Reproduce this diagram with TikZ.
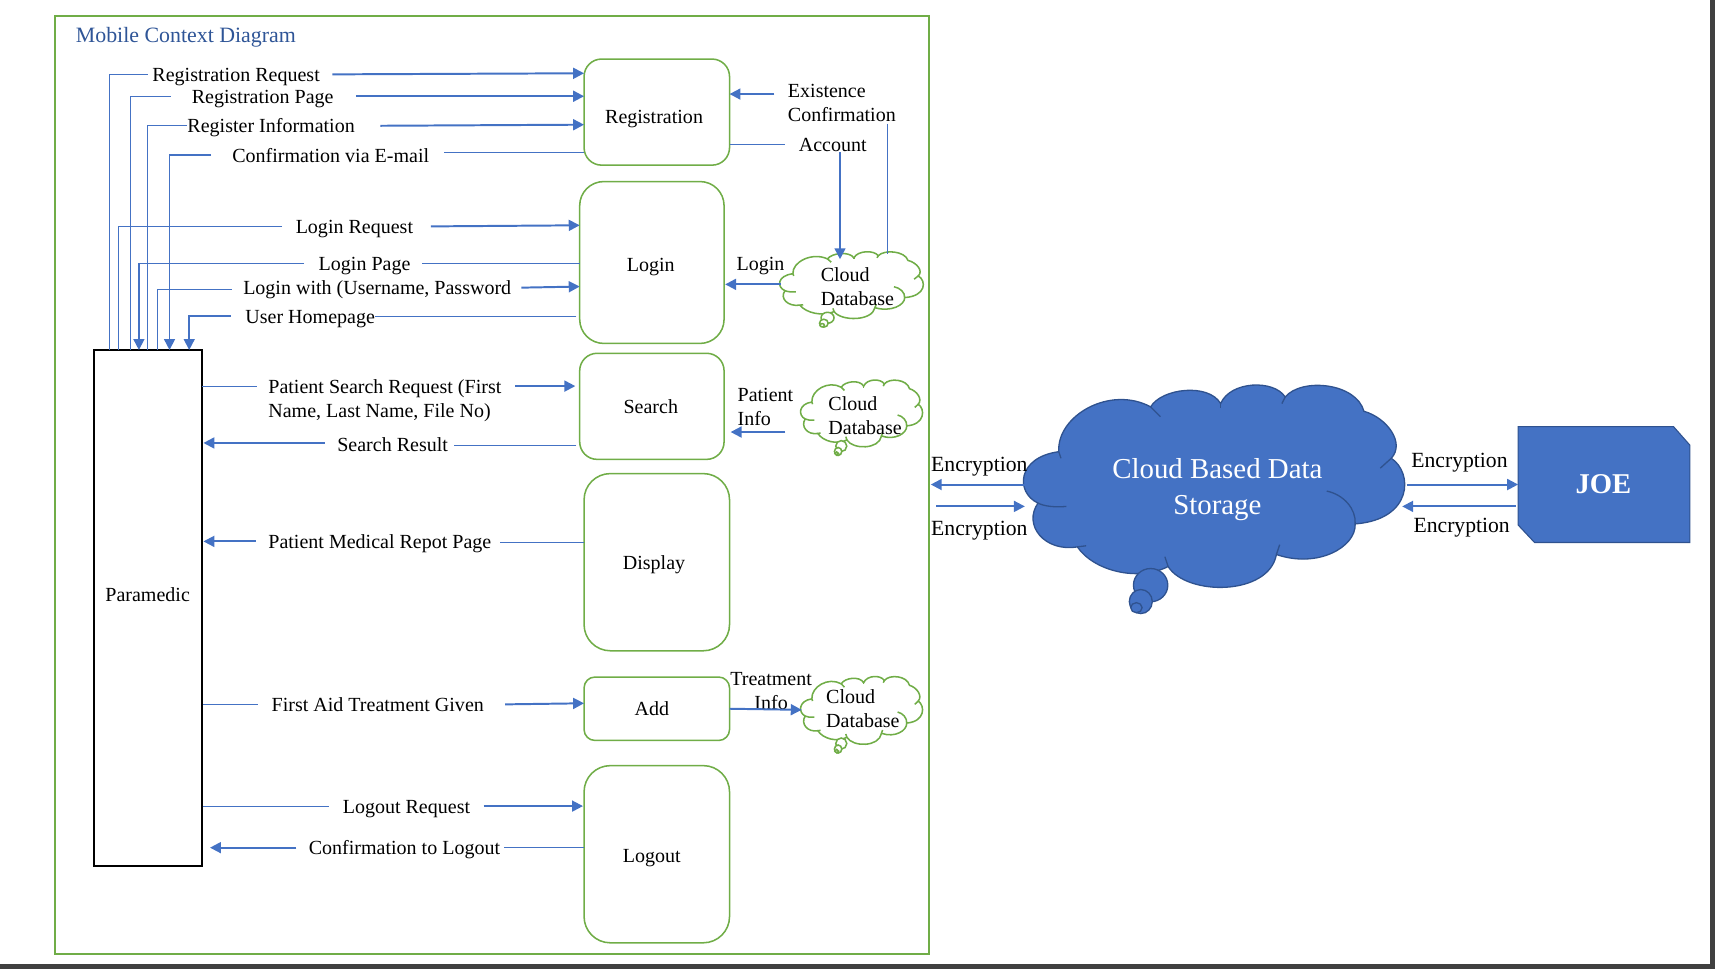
\documentclass[tikz,border=0pt]{standalone}
\usepackage{fontspec}
\setmainfont{Liberation Serif}
\usetikzlibrary{arrows.meta}
\definecolor{dfdgreen}{HTML}{70AD47}
\definecolor{dfdblue}{HTML}{4472C4}
\definecolor{dfdedge}{HTML}{2F528F}
\definecolor{dfdtitle}{HTML}{2F5597}
\definecolor{pagebar}{HTML}{404040}
\tikzset{
	process/.style={draw=dfdgreen, line width=0.7pt, fill=white},
	lbl/.style={inner sep=0pt, font=\fontsize{9.15}{11}\selectfont, text height=8.3pt, text depth=1.8pt},
	lbls/.style={inner sep=0pt, font=\fontsize{9.15}{11}\selectfont, align=left},
	enc/.style={inner sep=0pt, font=\fontsize{9.9}{12}\selectfont, text height=8.5pt, text depth=2pt},
	wire/.style={draw=dfdblue, line width=0.45pt},
	flow/.style={draw=dfdblue, line width=0.9pt, -{Triangle[length=5pt,width=5pt]}},
	flowthin/.style={flow, line width=0.75pt},
}
% cloud outline, drawn at the size of the big one
\newcommand{\cloudshape}[2]{
	\begin{scope}[#1]
		\draw[#2] (968,413) .. controls (966,380) and (1015,352) .. (1052,372)
			.. controls (1062,355) and (1105,350) .. (1116,369)
			.. controls (1125,348) and (1165,347) .. (1175,363)
			.. controls (1190,345) and (1240,350) .. (1247,376)
			.. controls (1268,382) and (1285,405) .. (1272,419)
			.. controls (1292,432) and (1292,475) .. (1239,479)
			.. controls (1240,500) and (1205,520) .. (1167,507)
			.. controls (1160,545) and (1085,545) .. (1068,518)
			.. controls (1040,532) and (1000,522) .. (985,500)
			.. controls (955,505) and (935,480) .. (949,460)
			.. controls (928,450) and (930,418) .. (968,413) -- cycle;
		\draw[#2, fill=none] (968,413) -- (970,419);
		\draw[#2, fill=none] (1052,372) -- (1061,381);
		\draw[#2, fill=none] (1116,369) -- (1116,373);
		\draw[#2, fill=none] (1175,363) -- (1172,369);
		\draw[#2, fill=none] (1272,419) -- (1262,428);
		\draw[#2, fill=none] (1239,479) .. controls (1240,465) and (1228,452) .. (1213,449);
		\draw[#2, fill=none] (1167,507) -- (1170,498);
		\draw[#2, fill=none] (1068,518) -- (1065,509);
		\draw[#2, fill=none] (985,500) -- (993,499);
		\draw[#2, fill=none] (949,460) .. controls (955,463) and (965,464) .. (975,463);
		\draw[#2] (1052,535) circle [x radius=15.7, y radius=15.2];
		\draw[#2] (1043,550) circle [x radius=10.5, y radius=11];
		\draw[#2] (1039,555.6) circle [x radius=5.2, y radius=4.6];
	\end{scope}
}
\begin{document}
\begin{tikzpicture}[x=0.5pt, y=-0.5pt]
	\useasboundingbox (0,0) rectangle (1568,886);
	% page edge
	\fill[pagebar] (0,881.5) rectangle (1568,886);
	\fill[pagebar] (1563.5,0) rectangle (1568,886);
	% outer frame
	\draw[draw=dfdgreen, line width=1pt] (50,15) rectangle (849,872);
	\node[anchor=west, inner sep=0pt, text=dfdtitle, font=\fontsize{10}{12}\selectfont] (title) at (69,34) {Mobile Context Diagram};
	
	% processes
	\draw[process, rounded corners=8pt] (534,54) rectangle (667,151);
	\node[lbl] (registration) at (598,106) {Registration};
	\draw[process, rounded corners=11pt] (530,166) rectangle (662,314);
	\node[lbl] (login) at (595,242) {Login};
	\draw[process, rounded corners=8pt] (530,323) rectangle (662,420);
	\node[lbl] (search) at (595,372) {Search};
	\draw[process, rounded corners=12pt] (534,433) rectangle (667,595);
	\node[lbl] (display) at (598,514) {Display};
	\draw[process, rounded corners=5pt] (534,619) rectangle (667,677);
	\node[lbl] (add) at (596,648) {Add};
	\draw[process, rounded corners=12pt] (534,700) rectangle (667,862);
	\node[lbl] (logout) at (596,782) {Logout};
	
	% paramedic box
	\node[draw, line width=1pt, minimum width=49.5pt, minimum height=236pt, inner sep=0pt] (paramedic) at (135.5,556) {};
	\node[lbl] (paramediclbl) at (135,543) {Paramedic};
	
	% clouds
	\cloudshape{shift={(360,114)}, xscale=.377, yscale=.33}{draw=dfdgreen, line width=0.7pt, fill=white}
	\cloudshape{shift={(432.5,231.3)}, xscale=.32, yscale=.33}{draw=dfdgreen, line width=0.7pt, fill=white}
	\cloudshape{shift={(432.5,500.6)}, xscale=.32, yscale=.335}{draw=dfdgreen, line width=0.7pt, fill=white}
	\cloudshape{}{draw=dfdedge, line width=0.6pt, fill=dfdblue}
	\node[lbls, anchor=west] (cloudA) at (750,262) {Cloud\\Database};
	\node[lbls, anchor=west] (cloudB) at (757,380) {Cloud\\Database};
	\node[lbls, anchor=west] (cloudC) at (755,648) {Cloud\\Database};
	\node[text=white, align=center, inner sep=0pt, font=\fontsize{13.2}{16.4}\selectfont] (storage) at (1113,448) {Cloud Based Data\\Storage};
	
	% JOE
	\draw[fill=dfdblue, draw=dfdedge, line width=0.5pt] (1388,390) -- (1530,390) -- (1545,407) -- (1545,496) -- (1403,496) -- (1388,480) -- cycle;
	\node[text=white, inner sep=0pt, font=\fontsize{13.1}{16}\selectfont\bfseries] (joe) at (1466,443) {JOE};
	
	% top of the paramedic box, where the lines land
	\foreach \name/\x in {pa/100, pb/108, pc/119, pd/127, pe/135, pf/144, pg/155, ph/173}{
		\coordinate (\name) at (\x,320);
	}
	
	% registration
	\node[lbl, anchor=west] (regrequest) at (139,68) {Registration Request};
	\draw[wire] ([xshift=-2pt]regrequest.west) -| (pa);
	\draw[flow] ([xshift=5.5pt]regrequest.east) -- (534,67);
	\node[lbl, anchor=west] (regpage) at (175,88) {Registration Page};
	\draw[wire] ([xshift=-9.5pt]regpage.west) -| (pc);
	\draw[flow] ([xshift=10pt]regpage.east) -- (534,88);
	\node[lbl, anchor=west] (reginfo) at (171,115) {Register Information};
	\draw[wire] (reginfo.west) -| (pe);
	\draw[flow] ([xshift=11.5pt]reginfo.east) -- (534,114);
	\node[lbl, anchor=west] (regmail) at (212,142) {Confirmation via E-mail};
	\draw[wire] (534,139) -- ([xshift=6.5pt,yshift=1.5pt]regmail.east);
	\draw[flowthin] ([xshift=-9.5pt]regmail.west) -| (pg);
	
	% login
	\node[lbl, anchor=west] (logrequest) at (270,207) {Login Request};
	\draw[wire] ([xshift=-6pt]logrequest.west) -| (pb);
	\draw[flow] ([xshift=8pt]logrequest.east) -- (530,206);
	\node[lbl, anchor=west] (logpage) at (291,241) {Login Page};
	\draw[wire] (530,241) -- ([xshift=5pt]logpage.east);
	\draw[flowthin] ([xshift=-6.5pt]logpage.west) -| (pd);
	\node[lbl, anchor=west] (logwith) at (222,263) {Login with (Username, Password};
	\draw[wire] ([xshift=-5pt,yshift=-1pt]logwith.west) -| (pf);
	\draw[flow] ([xshift=4.5pt]logwith.east) -- (530,262);
	\node[lbl, anchor=west] (homepage) at (224,289) {User Homepage};
	\draw[wire] (527,289) -- (homepage.east);
	\draw[flowthin] ([xshift=-6.5pt]homepage.west) -| (ph);
	
	% search
	\node[lbls, anchor=west] (searchreq) at (245,366) {Patient Search Request (First\\Name, Last Name, File No)};
	\draw[wire] (185,353) -- (235,353);
	\draw[flow] (471,353) -- (526,353);
	\node[lbl, anchor=west] (searchres) at (308,406) {Search Result};
	\draw[flow] ([xshift=-5.5pt,yshift=0.5pt]searchres.west) -- ([yshift=0.5pt]paramedic.east |- searchres.west);
	\draw[wire] (527,407) -- ([xshift=2.5pt,yshift=-0.5pt]searchres.east);
	
	% display
	\node[lbl, anchor=west] (medical) at (245,495) {Patient Medical Repot Page};
	\draw[flow] ([xshift=-5.5pt]medical.west) -- (paramedic.east |- medical.west);
	\draw[wire] (534,496) -- ([xshift=4pt,yshift=-0.5pt]medical.east);
	
	% add
	\node[lbl, anchor=west] (firstaid) at (248,644) {First Aid Treatment Given};
	\draw[wire] (paramedic.east |- firstaid.west) -- ([xshift=-6pt]firstaid.west);
	\draw[flow] ([xshift=9.5pt]firstaid.east) -- (534,643);
	
	% logout
	\node[lbl, anchor=west] (logoutreq) at (313,737) {Logout Request};
	\draw[wire] (paramedic.east |- logoutreq.west) -- ([xshift=-6pt]logoutreq.west);
	\draw[flow] ([xshift=6pt]logoutreq.east) -- (533,737);
	\node[lbl, anchor=west] (logoutok) at (282,775) {Confirmation to Logout};
	\draw[flow] ([xshift=-5.5pt]logoutok.west) -- (192,775);
	\draw[wire] (534,775) -- ([xshift=1.5pt]logoutok.east);
	
	% right of the processes
	\node[lbls, anchor=west] (existence) at (720,94) {Existence\\Confirmation};
	\draw[flow] (708,86) -- (667,86);
	\draw[wire] (811,113) -- (811,232);
	\node[lbl, anchor=west] (account) at (730,132) {Account};
	\draw[wire] (667,132) -- ([xshift=-6pt]account.west);
	\draw[flowthin] (768,139) -- (768,237);
	\node[lbl, anchor=west] (loginlbl) at (673,241) {Login};
	\draw[flow] (714,260) -- (663,260);
	\node[lbls, anchor=west] (patientinfo) at (674,372) {Patient\\Info};
	\draw[flow] (718,395) -- (668,395);
	\node[lbls, align=center] (treatinfo) at (705,632) {Treatment\\Info};
	\draw[flow] (667,648) -- (733,649);
	
	% encryption
	\node[enc, anchor=west] (encA) at (851,425) {Encryption};
	\draw[flow] (937,443) -- (851,443);
	\node[enc, anchor=west] (encB) at (851,483) {Encryption};
	\draw[flow] (856,463) -- (937,463);
	\node[enc, anchor=west] (encC) at (1290,421) {Encryption};
	\draw[flow] (1286,443) -- (1388,443);
	\node[enc, anchor=west] (encD) at (1292,480) {Encryption};
	\draw[flow] (1386,463) -- (1282,463);
\end{tikzpicture}
\end{document}
